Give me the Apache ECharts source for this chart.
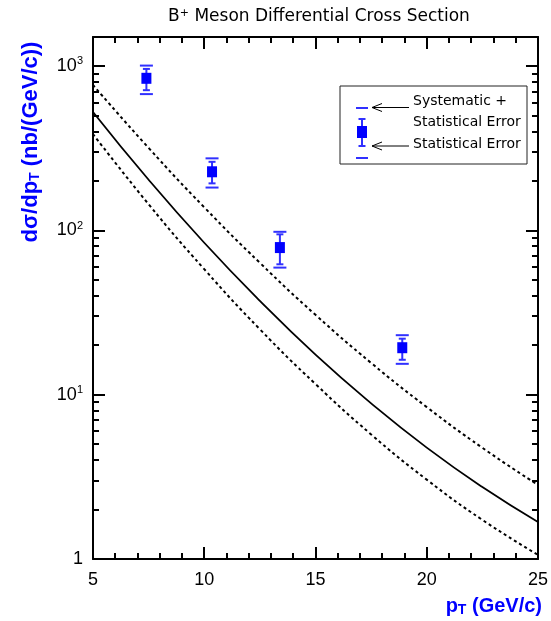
<!DOCTYPE html>
<html><head><meta charset="utf-8">
<script src="https://cdn.jsdelivr.net/npm/echarts@6/dist/echarts.min.js"></script>
<style>html,body{margin:0;padding:0;background:#fff}#c{width:551px;height:621px}</style>
</head><body><div id="c"></div>
<script>
// ---- data ----
const ptPoints = [7.4, 10.35, 13.4, 18.9];
const xsec     = [841, 227, 78.5, 19.3];
const statLow  = [712, 193, 62.1, 16.3];
const statHigh = [959, 261, 94.5, 21.9];
const sysLow   = [674, 182, 59.3, 15.4];
const sysHigh  = [1005, 274, 97.9, 23.0];

const curvePt = [5, 7.5, 10, 12.5, 15, 17.5, 20, 22.5, 25];
const central = [525, 203, 84, 37.2, 17.5, 8.85, 4.76, 2.74, 1.68];
const upper   = [766, 317, 138, 63.4, 30.6, 15.6, 8.4, 4.75, 2.82];
const lower   = [385, 144, 58, 25.0, 11.6, 5.73, 3.04, 1.73, 1.06];

const xMin = 5, xMax = 25, xInterval = 5;
const yMin = 1, yMax = 1500;
const yMajorTicks = [1, 10, 100, 1000];
const yMajorLabels = ['1', '10{sup|1}', '10{sup|2}', '10{sup|3}'];
const yMinorTicks = [2,3,4,5,6,7,8,9,20,30,40,50,60,70,80,90,200,300,400,500,600,700,800,900];

const FONT = 'Liberation Sans';
const TFONT = 'DejaVu Sans';
const BLUE = '#0000ff';
const BAR = '#3030ff';

const chart = echarts.init(document.getElementById('c'), null, {renderer: 'canvas'});

const axisLineStyle = {show: true, lineStyle: {color: '#000', width: 2}};
function xAxisDef(pos, showLabel) {
  return {
    type: 'value', position: pos, min: xMin, max: xMax, interval: xInterval,
    axisLine: Object.assign({onZero: false}, axisLineStyle),
    axisTick: {show: true, inside: true, length: 12, lineStyle: {color: '#000', width: 2}},
    minorTick: {show: true, splitNumber: 5, length: 6, lineStyle: {color: '#000', width: 2}},
    splitLine: {show: false}, minorSplitLine: {show: false},
    axisLabel: {show: showLabel, color: '#000', fontFamily: FONT, fontSize: 18, margin: 12}
  };
}
function yAxisDef(pos, major) {
  const ticks = major ? yMajorTicks : yMinorTicks;
  return {
    type: 'log', logBase: 10, position: pos, min: yMin, max: yMax,
    axisLine: major ? Object.assign({onZero: false}, axisLineStyle) : {show: false},
    axisTick: {show: true, inside: true, length: major ? 12 : 6, customValues: ticks,
               lineStyle: {color: '#000', width: 2}},
    splitLine: {show: false},
    axisLabel: (major && pos === 'left') ? {
      show: true, customValues: yMajorTicks, margin: 10,
      formatter: (v) => { const i = yMajorTicks.indexOf(v); return i >= 0 ? yMajorLabels[i] : ''; },
      rich: {
        sup: {fontSize: 11, fontFamily: FONT, color: '#000', padding: [0, 0, 9, 0]}
      },
      color: '#000', fontFamily: FONT, fontSize: 18
    } : {show: false}
  };
}

const pointData = ptPoints.map((x, i) => [x, xsec[i], statLow[i], statHigh[i], sysLow[i], sysHigh[i]]);

function renderPoint(params, api) {
  const x = api.value(0);
  const c = api.coord([x, api.value(1)]);
  const sL = api.coord([x, api.value(2)]);
  const sH = api.coord([x, api.value(3)]);
  const yL = api.coord([x, api.value(4)]);
  const yH = api.coord([x, api.value(5)]);
  const px = c[0];
  const st = {stroke: BAR, lineWidth: 2};
  return {type: 'group', children: [
    {type: 'line', shape: {x1: px, y1: sH[1], x2: px, y2: sL[1]}, style: st},
    {type: 'line', shape: {x1: px - 3.5, y1: sH[1], x2: px + 3.5, y2: sH[1]}, style: st},
    {type: 'line', shape: {x1: px - 3.5, y1: sL[1], x2: px + 3.5, y2: sL[1]}, style: st},
    {type: 'line', shape: {x1: px - 6.5, y1: yH[1], x2: px + 6.5, y2: yH[1]}, style: st},
    {type: 'line', shape: {x1: px - 6.5, y1: yL[1], x2: px + 6.5, y2: yL[1]}, style: st},
    {type: 'rect', shape: {x: px - 5, y: c[1] - 5.5, width: 10, height: 11}, style: {fill: BLUE}}
  ]};
}

function lineSeries(vals, dashed) {
  return {
    type: 'line', xAxisIndex: 0, yAxisIndex: 0,
    data: curvePt.map((x, i) => [x, vals[i]]),
    showSymbol: false, smooth: 0.5, silent: true,
    lineStyle: {color: '#000', width: dashed ? 2 : 1.8, type: dashed ? [3, 3] : 'solid'}
  };
}

// legend graphics
const lx = 340, ly = 86;
const LF = '14px "' + TFONT + '"';
const legend = [
  {type: 'rect', shape: {x: lx, y: ly, width: 187, height: 78}, style: {fill: '#fff', stroke: '#222', lineWidth: 1}},
  {type: 'line', shape: {x1: 356, y1: 108, x2: 368, y2: 108}, style: {stroke: BAR, lineWidth: 2}},
  {type: 'line', shape: {x1: 356, y1: 158, x2: 368, y2: 158}, style: {stroke: BAR, lineWidth: 2}},
  {type: 'line', shape: {x1: 362, y1: 119, x2: 362, y2: 146}, style: {stroke: BAR, lineWidth: 2}},
  {type: 'line', shape: {x1: 358.5, y1: 119, x2: 365.5, y2: 119}, style: {stroke: BAR, lineWidth: 2}},
  {type: 'line', shape: {x1: 358.5, y1: 146, x2: 365.5, y2: 146}, style: {stroke: BAR, lineWidth: 2}},
  {type: 'rect', shape: {x: 357, y: 126, width: 10, height: 12}, style: {fill: BLUE}},
  {type: 'line', shape: {x1: 372, y1: 107.5, x2: 409, y2: 107.5}, style: {stroke: '#000', lineWidth: 1}},
  {type: 'polyline', shape: {points: [[382, 103.5], [372, 107.5], [382, 111.5]]}, style: {stroke: '#000', lineWidth: 1, fill: null}},
  {type: 'line', shape: {x1: 372, y1: 146, x2: 409, y2: 146}, style: {stroke: '#000', lineWidth: 1}},
  {type: 'polyline', shape: {points: [[382, 142], [372, 146], [382, 150]]}, style: {stroke: '#000', lineWidth: 1, fill: null}},
  {type: 'text', x: 413, y: 101, style: {text: 'Systematic +', font: LF, fill: '#000', verticalAlign: 'middle'}},
  {type: 'text', x: 413, y: 122, style: {text: 'Statistical Error', font: LF, fill: '#000', verticalAlign: 'middle'}},
  {type: 'text', x: 413, y: 144, style: {text: 'Statistical Error', font: LF, fill: '#000', verticalAlign: 'middle'}}
];

const texts = [
  {type: 'text', x: 319, y: 17, style: {
    text: 'B{sup|+} Meson Differential Cross Section', align: 'center', verticalAlign: 'middle',
    font: '17px "' + TFONT + '"', fill: '#000',
    rich: {sup: {font: '11px "' + TFONT + '"', fill: '#000', padding: [0, 0, 8, 0]}}
  }},
  {type: 'text', x: 31, y: 142, rotation: Math.PI / 2, style: {
    text: 'dσ/dp{sub|T} (nb/(GeV/c))', align: 'center', verticalAlign: 'middle',
    font: 'bold 22px "' + FONT + '"', fill: BLUE,
    rich: {sub: {font: 'bold 14px "' + FONT + '"', fill: BLUE, padding: [8, 0, 0, 0]}}
  }},
  {type: 'text', x: 542, y: 606, style: {
    text: 'p{sub|T} (GeV/c)', align: 'right', verticalAlign: 'middle',
    font: 'bold 20px "' + FONT + '"', fill: BLUE,
    rich: {sub: {font: 'bold 14px "' + FONT + '"', fill: BLUE, padding: [8, 0, 0, 0]}}
  }}
];

chart.setOption({
  animation: false,
  backgroundColor: '#fff',
  grid: {left: 93, right: 10, top: 37, bottom: 62, containLabel: false},
  xAxis: [xAxisDef('bottom', true), xAxisDef('top', false)],
  yAxis: [yAxisDef('left', true), yAxisDef('left', false), yAxisDef('right', true), yAxisDef('right', false)],
  series: [
    lineSeries(upper, true),
    lineSeries(central, false),
    lineSeries(lower, true),
    {type: 'custom', xAxisIndex: 0, yAxisIndex: 0, data: pointData, renderItem: renderPoint,
     encode: {x: 0, y: 1}, clip: false, silent: true}
  ],
  graphic: legend.concat(texts)
});
</script>
</body></html>
